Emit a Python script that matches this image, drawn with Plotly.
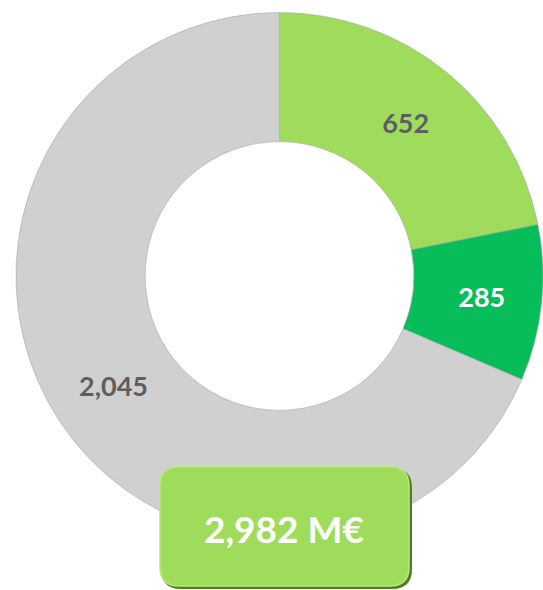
import plotly.graph_objects as go

# donut values
labels = ['Segment A', 'Segment B', 'Other']
values = [652, 285, 2045]
colors = ['#9FDC5B', '#06BD5A', '#D0D0D0']
text_colors = ['#5E5E62', '#FFFFFF', '#5E5E62']

W, H = 543, 590
total = sum(values)

fig = go.Figure()
fig.add_trace(go.Pie(
    labels=labels,
    values=values,
    hole=0.51,
    sort=False,
    direction='clockwise',
    rotation=0,
    marker=dict(colors=colors, line=dict(color='#A8A8A8', width=0.6)),
    texttemplate='%{value:,}',
    textposition='inside',
    insidetextorientation='horizontal',
    textfont=dict(family='Lato', size=27, color=text_colors, weight='bold'),
    domain=dict(x=[16 / W, 1], y=[50 / H, 578 / H]),
    showlegend=False,
    hoverinfo='label+value',
))


def rounded_rect(x0, y0, x1, y1, r):
    # pixel coords (top-left origin) -> paper coords
    def p(x, y):
        return f'{x / W:.5f},{1 - y / H:.5f}'
    return (f'M {p(x0 + r, y0)} L {p(x1 - r, y0)} Q {p(x1, y0)} {p(x1, y0 + r)} '
            f'L {p(x1, y1 - r)} Q {p(x1, y1)} {p(x1 - r, y1)} '
            f'L {p(x0 + r, y1)} Q {p(x0, y1)} {p(x0, y1 - r)} '
            f'L {p(x0, y0 + r)} Q {p(x0, y0)} {p(x0 + r, y0)} Z')


# total box with darker bevel on the right/bottom edge
fig.add_shape(type='path', xref='paper', yref='paper', layer='above',
              path=rounded_rect(161, 468, 412, 589, 20),
              fillcolor='#4C7F22', line=dict(width=0))
fig.add_shape(type='path', xref='paper', yref='paper', layer='above',
              path=rounded_rect(160, 467, 409, 586, 19),
              fillcolor='#A0DC5C', line=dict(color='#B6EA78', width=1.5))

fig.add_annotation(
    x=284 / W, y=1 - 528 / H, xref='paper', yref='paper',
    xanchor='center', yanchor='middle',
    text=f'{total:,} M€', showarrow=False,
    font=dict(family='Lato', size=37, color='#FFFFFF', weight='bold'),
)

fig.update_layout(
    width=W, height=H,
    margin=dict(l=0, r=0, t=0, b=0),
    paper_bgcolor='white',
    plot_bgcolor='white',
)

# page has a default 8px body margin; drop it so the figure fills the window
fig.write_html('out.html', config={'displayModeBar': False},
               post_script="document.body.style.margin='0';document.body.style.overflow='hidden';")
